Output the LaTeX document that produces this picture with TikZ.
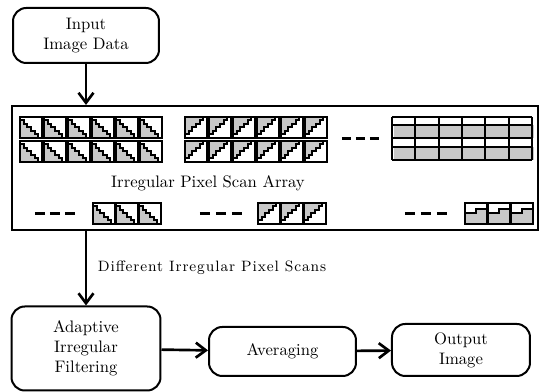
\documentclass[tikz,border=0pt]{standalone}
\usepackage{fontspec}
\usepackage{tikz}
\usetikzlibrary{arrows.meta}

\newfontfamily\scanfont[LetterSpace=6]{Latin Modern Roman}
\definecolor{scangray}{RGB}{200,200,200}

\tikzset{
  box/.style={draw, line width=1.2pt, rounded corners=8pt, align=center, inner sep=2pt},
  panel/.style={draw, line width=1.2pt, inner sep=0pt},
  flow/.style={line width=1.6pt, -{Straight Barb[length=6pt,width=9pt]}},
  tileframe/.style={line width=1.2pt},
  dashmark/.style={line width=1.8pt},
}

% one pixel tile, local origin at its top left corner
\newcommand{\falltile}{%
  \fill[scangray] (0,0) rectangle (22,21);
  \fill[white] (0,0) |- (3.67,3.5) |- (7.33,7) |- (11,10.5) |- (14.67,14) |- (18.33,17.5) |- (22,21) -- (22,0) -- cycle;
  \draw[tileframe] (0,0) |- (3.67,3.5) |- (7.33,7) |- (11,10.5) |- (14.67,14) |- (18.33,17.5) |- (22,21);
  \draw[tileframe] (0,0) rectangle (22,21);
}
\newcommand{\risetile}{%
  \fill[scangray] (0,0) rectangle (22,21);
  \fill[white] (0,21) |- (3.67,17.5) |- (7.33,14) |- (11,10.5) |- (14.67,7) |- (18.33,3.5) |- (22,0) -- (22,21) -- cycle;
  \draw[tileframe] (0,21) |- (3.67,17.5) |- (7.33,14) |- (11,10.5) |- (14.67,7) |- (18.33,3.5) |- (22,0);
  \draw[tileframe] (0,0) rectangle (22,21);
}
\newcommand{\steptile}{%
  \fill[scangray] (0,0) rectangle (22,21);
  \fill[white] (0,0) -- (0,10.5) -- (11,10.5) -- (11,6) -- (22,6) -- (22,0) -- cycle;
  \draw[tileframe] (0,10.5) -- (11,10.5) -- (11,6) -- (22,6);
  \draw[tileframe] (0,0) rectangle (22,21);
}

\begin{document}
\begin{tikzpicture}[x=0.6pt, y=-0.6pt]
  \useasboundingbox (0,0) rectangle (539,392);

  \node[box, minimum width=87.6pt, minimum height=33pt] (input) at (86,35.5) {Input\\Image Data};
  \node[panel, minimum width=315.6pt, minimum height=74.4pt] (scan) at (275,168) {};
  \node (scanlabel) at (208,183) {Irregular Pixel Scan Array};

  \node[box, minimum width=89.4pt, minimum height=50.4pt] (adaptive) at (86,348.5) {Adaptive\\Irregular\\Filtering};
  \node[box, minimum width=88.2pt, minimum height=29.4pt] (averaging) at (282.5,351.5) {Averaging};
  \node[box, minimum width=82.8pt, minimum height=31.2pt] (output) at (461,350) {Output\\Image};

  % scan patterns, upper rows
  \foreach \i in {0,...,5} {
    \foreach \j in {0,1} {
      \begin{scope}[shift={(20+24*\i,117+24*\j)}] \falltile \end{scope}
      \begin{scope}[shift={(185+24*\i,117+24*\j)}] \risetile \end{scope}
    }
  }
  \foreach \x in {342,356,370}
    \draw[dashmark] (\x,139) -- ++(9,0);

  % raster scan grid
  \foreach \y in {125,147}
    \fill[scangray] (394,\y) rectangle (534,\y+13);
  \foreach \y in {117,125,138,147,160}
    \draw[tileframe] (392,\y) -- (532,\y);
  \foreach \x in {392,415.3,438.7,462,485.3,508.7,532}
    \draw[tileframe] (\x,117) -- (\x,160);

  % scan patterns, lower row
  \foreach \i in {0,1,2} {
    \begin{scope}[shift={(93+23*\i,203)}] \falltile \end{scope}
    \begin{scope}[shift={(258+23*\i,203)}] \risetile \end{scope}
    \begin{scope}[shift={(465+23*\i,203)}] \steptile \end{scope}
  }
  \foreach \x in {35,50,65,200,216,232,405,421,437}
    \draw[dashmark] (\x,214) -- ++(10,0);

  \draw[flow] (input) -- (input |- scan.north);
  \draw[flow] (adaptive.north |- scan.south) -- node[right, font=\fontsize{9}{11}\scanfont, xshift=3pt] {Different Irregular Pixel Scans} (adaptive.north);
  \draw[flow] (adaptive) -- (averaging);
  \draw[flow] (averaging) -- (output);
\end{tikzpicture}
\end{document}
